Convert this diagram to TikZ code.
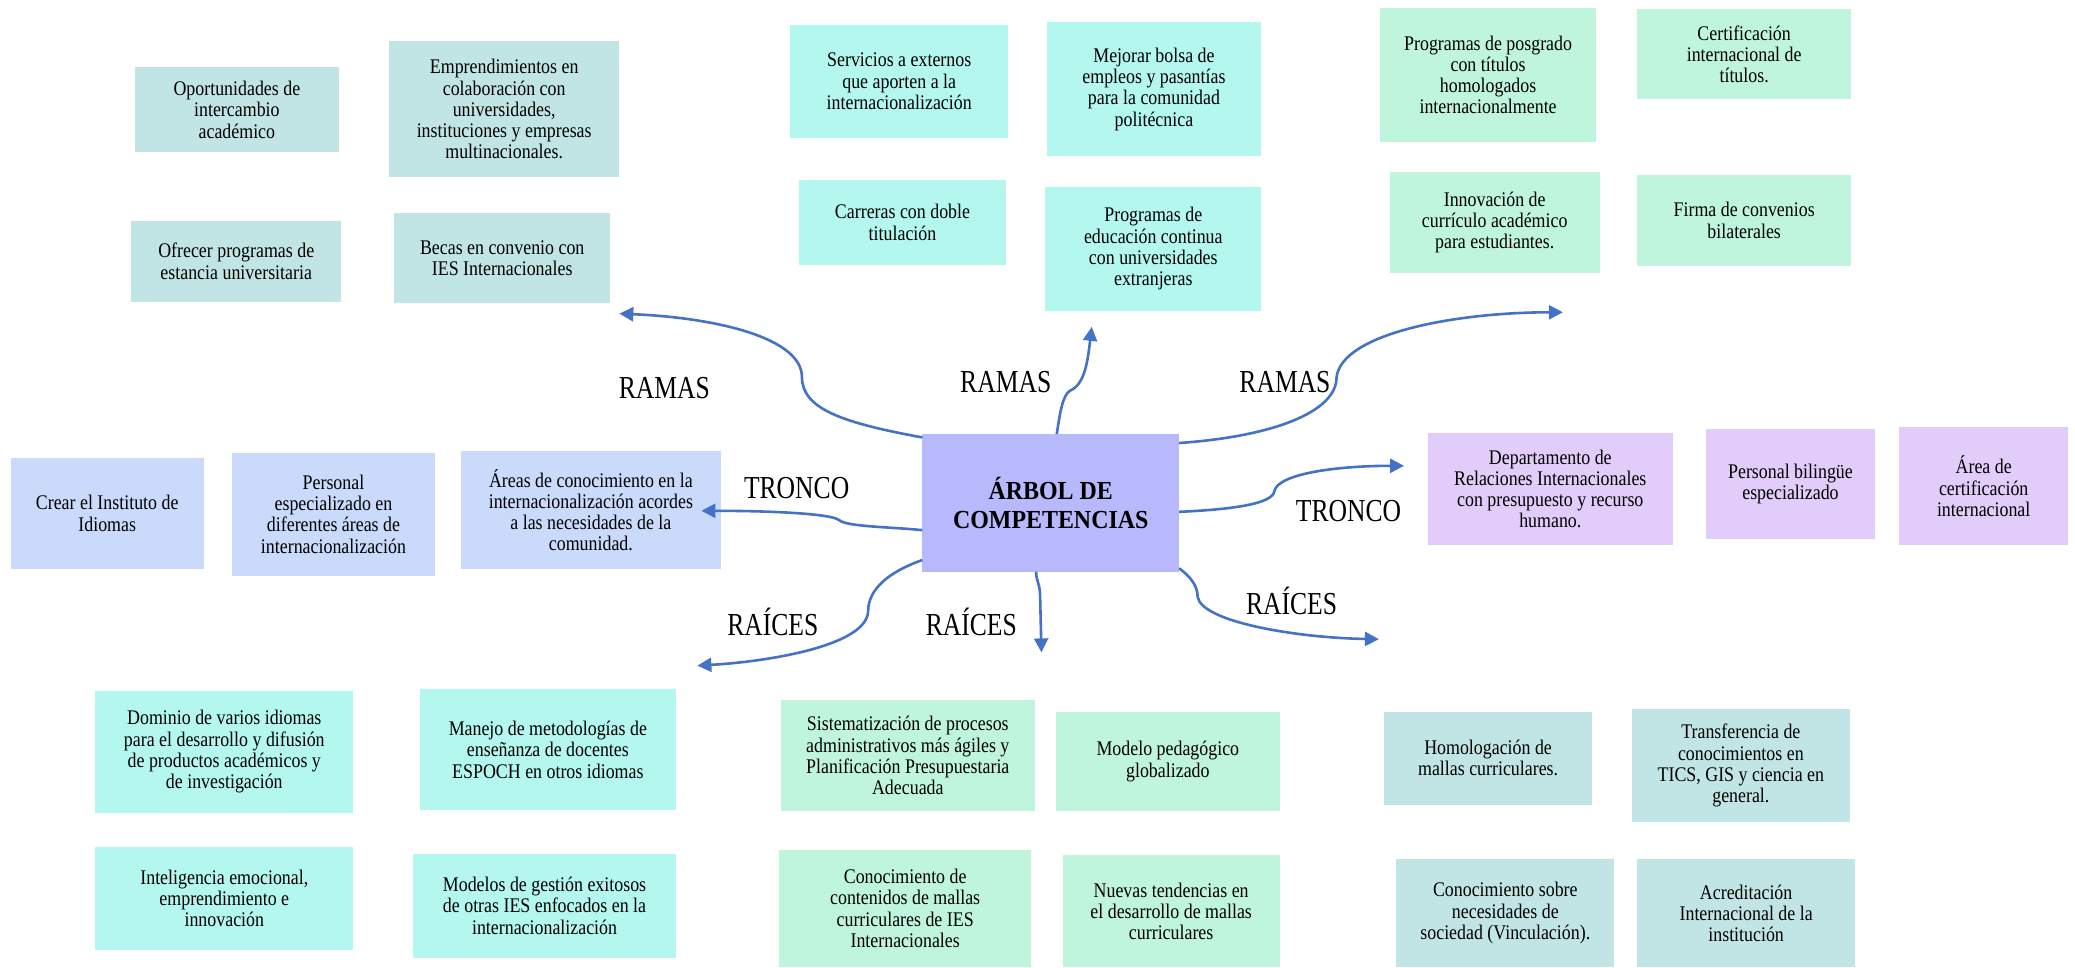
\documentclass[tikz,border=0pt]{standalone}
\usepackage{fontspec}
\setmainfont{Liberation Serif}
% narrow, tall serif faces for the box texts, the tags and the core title
\newfontfamily\boxfont[FakeStretch=0.86]{Liberation Serif}
\newfontfamily\tagfont[FakeStretch=0.8]{Liberation Serif}
\newfontfamily\corefont[FakeStretch=0.92]{Liberation Serif}
\usetikzlibrary{arrows.meta}

\definecolor{tealgrey}{HTML}{C1E5E5}
\definecolor{aqua}{HTML}{B3F7EF}
\definecolor{mint}{HTML}{BFF5DD}
\definecolor{paleblue}{HTML}{C9DAFB}
\definecolor{lavender}{HTML}{E2CCFA}
\definecolor{corefill}{HTML}{B8B8FC}
\definecolor{linkblue}{HTML}{4472C4}

% box from corner (#2,#3) to corner (#4,#5), fill #6, text #7
\newcommand\mkcell[7]{%
  \pgfmathsetmacro\mkW{(#4-#2)*0.6617}%
  \pgfmathsetmacro\mkH{(#5-#3)*0.6617}%
  \node[cellbox, fill=#6, minimum width=\mkW pt, minimum height=\mkH pt]
    (#1) at ({(#2+#4)/2},{(#3+#5)/2}) {#7};}

\begin{document}
\begin{tikzpicture}[x=0.6617pt, y=-0.6617pt,
  cellbox/.style={rectangle, draw=none, inner sep=0pt, outer sep=0pt,
    align=center, font=\boxfont\fontsize{10.4}{10.6}\selectfont},
  corebox/.style={rectangle, fill=corefill, inner sep=0pt, outer sep=0pt,
    align=center, font=\corefont\fontsize{13}{14.6}\selectfont\bfseries},
  tag/.style={font=\tagfont\fontsize{16}{18}\selectfont, inner sep=0pt},
  link/.style={draw=linkblue, line width=1.3pt,
    -{Triangle[length=7pt, width=7pt]}}]

\useasboundingbox[fill=white] (0,0) rectangle (1568,731);

% ---- ramas, izquierda
\mkcell{oport}{102}{51}{256}{115}{tealgrey}{Oportunidades de\\intercambio\\académico}
\mkcell{empren}{294}{31}{468}{134}{tealgrey}{Emprendimientos en\\colaboración con\\universidades,\\instituciones y empresas\\multinacionales.}
\mkcell{estancia}{99}{167}{258}{228}{tealgrey}{Ofrecer programas de\\estancia universitaria}
\mkcell{becas}{298}{161}{461}{229}{tealgrey}{Becas en convenio con\\IES Internacionales}

% ---- ramas, centro
\mkcell{servicios}{597}{19}{762}{104}{aqua}{Servicios a externos\\que aporten a la\\internacionalización}
\mkcell{bolsa}{791}{17}{953}{118}{aqua}{Mejorar bolsa de\\empleos y pasantías\\para la comunidad\\politécnica}
\mkcell{carreras}{604}{136}{760}{200}{aqua}{Carreras con doble\\titulación}
\mkcell{continua}{790}{141}{953}{235}{aqua}{Programas de\\educación continua\\con universidades\\extranjeras}

% ---- ramas, derecha
\mkcell{posgrado}{1043}{6}{1206}{107}{mint}{Programas de posgrado\\con títulos\\homologados\\internacionalmente}
\mkcell{certif}{1237}{7}{1399}{75}{mint}{Certificación\\internacional de\\títulos.}
\mkcell{innov}{1050}{130}{1209}{206}{mint}{Innovación de\\currículo académico\\para estudiantes.}
\mkcell{firma}{1237}{132}{1399}{201}{mint}{Firma de convenios\\bilaterales}

% ---- tronco, izquierda
\mkcell{instituto}{8}{346}{154}{430}{paleblue}{Crear el Instituto de\\Idiomas}
\mkcell{personal}{175}{342}{329}{435}{paleblue}{Personal\\especializado en\\diferentes áreas de\\internacionalización}
\mkcell{areas}{348}{341}{545}{430}{paleblue}{Áreas de conocimiento en la\\internacionalización acordes\\a las necesidades de la\\comunidad.}

% ---- tronco, derecha
\mkcell{depto}{1079}{327}{1264}{412}{lavender}{Departamento de\\Relaciones Internacionales\\con presupuesto y recurso\\humano.}
\mkcell{biling}{1289}{324}{1417}{407}{lavender}{Personal bilingüe\\especializado}
\mkcell{areacert}{1435}{323}{1563}{412}{lavender}{Área de\\certificación\\internacional}

% ---- raíces, izquierda
\mkcell{dominio}{72}{522}{267}{614}{aqua}{Dominio de varios idiomas\\para el desarrollo y difusión\\de productos académicos y\\de investigación}
\mkcell{manejo}{317}{521}{511}{612}{aqua}{Manejo de metodologías de\\enseñanza de docentes\\ESPOCH en otros idiomas}
\mkcell{intelig}{72}{640}{267}{718}{aqua}{Inteligencia emocional,\\emprendimiento e\\innovación}
\mkcell{modelos}{312}{645}{511}{724}{aqua}{Modelos de gestión exitosos\\de otras IES enfocados en la\\internacionalización}

% ---- raíces, centro
\mkcell{sistem}{590}{529}{782}{613}{mint}{Sistematización de procesos\\administrativos más ágiles y\\Planificación Presupuestaria\\Adecuada}
\mkcell{pedag}{798}{538}{967}{613}{mint}{Modelo pedagógico\\globalizado}
\mkcell{mallas}{589}{642}{779}{731}{mint}{Conocimiento de\\contenidos de mallas\\curriculares de IES\\Internacionales}
\mkcell{tendencias}{803}{646}{967}{731}{mint}{Nuevas tendencias en\\el desarrollo de mallas\\curriculares}

% ---- raíces, derecha
\mkcell{homolog}{1046}{538}{1203}{608}{tealgrey}{Homologación de\\mallas curriculares.}
\mkcell{transfer}{1233}{536}{1398}{621}{tealgrey}{Transferencia de\\conocimientos en\\TICS, GIS y ciencia en\\general.}
\mkcell{vincul}{1055}{649}{1220}{731}{tealgrey}{Conocimiento sobre\\necesidades de\\sociedad (Vinculación).}
\mkcell{acredit}{1237}{649}{1402}{731}{tealgrey}{Acreditación\\Internacional de la\\institución}

% ---- nodo central
\pgfmathsetmacro\mkW{194*0.6617}
\pgfmathsetmacro\mkH{104*0.6617}
\node[corebox, minimum width=\mkW pt, minimum height=\mkH pt] (ctr) at (794,380)
  {ÁRBOL DE\\COMPETENCIAS};

% ---- rótulos
\node[tag] (tRamasL) at (502,293) {RAMAS};
\node[tag] (tRamasC) at (760,289) {RAMAS};
\node[tag] (tRamasR) at (971,289) {RAMAS};
\node[tag] (tTroncoL) at (602,369) {TRONCO};
\node[tag] (tTroncoR) at (1019,386) {TRONCO};
\node[tag] (tRaicesL) at (584,470) {RAÍCES};
\node[tag] (tRaicesC) at (734,470) {RAÍCES};
\node[tag] (tRaicesR) at (976,454) {RAÍCES};

% ---- extremos libres de las flechas
\coordinate (eRamasL) at (468,237);
\coordinate (eRamasC) at (825,247);
\coordinate (eRamasR) at (1181,236);
\coordinate (eTroncoL) at (530,386);
\coordinate (eTroncoR) at (1061,352);
\coordinate (eRaicesL) at (527,503);
\coordinate (eRaicesC) at (787,493);
\coordinate (eRaicesR) at (1042,483);

% ---- flechas
\draw[link] (ctr.153) .. controls (640,320) and (606,310) .. (606,285)
  .. controls (606,255) and (540,240) .. (eRamasL);
\draw[link] (ctr.85) .. controls (801,312) and (803,298) .. (809,295)
  .. controls (820,290) and (822,272) .. (eRamasC);
\draw[link] (ctr.25) .. controls (960,330) and (1010,312) .. (1010,285)
  .. controls (1014,252) and (1100,236) .. (eRamasR);
\draw[link] (ctr.192) .. controls (670,398) and (640,398) .. (634,393)
  .. controls (628,388) and (580,386) .. (eTroncoL);
\draw[link] (ctr.-4) .. controls (930,385) and (962,381) .. (963,371)
  .. controls (966,358) and (1010,352) .. (eTroncoR);
\draw[link] (ctr.204) .. controls (672,432) and (656,445) .. (656,462)
  .. controls (655,488) and (580,500) .. (eRaicesL);
\draw[link] (ctr.258) .. controls (783,440) and (786,440) .. (786,452) -- (eRaicesC);
\draw[link] (ctr.-27) .. controls (900,436) and (905,443) .. (905,451)
  .. controls (908,470) and (980,482) .. (eRaicesR);

\end{tikzpicture}
\end{document}
